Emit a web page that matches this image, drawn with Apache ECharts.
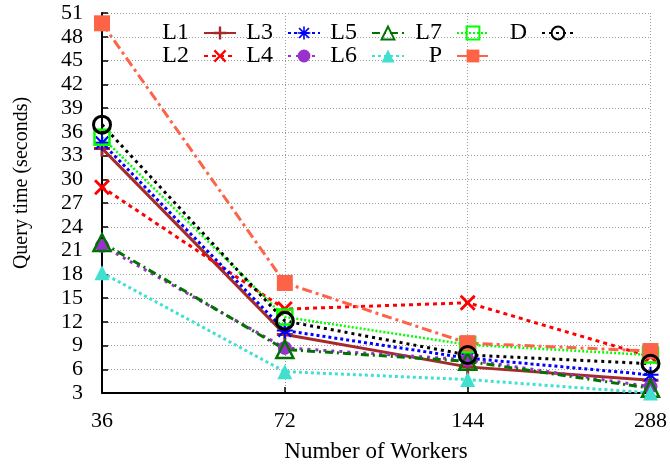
<!DOCTYPE html>
<html>
<head>
<meta charset="utf-8">
<script src="https://cdn.jsdelivr.net/npm/echarts@6/dist/echarts.min.js"></script>
<style>
  html, body { margin: 0; padding: 0; background: #fff; }
  #chart { width: 670px; height: 467px; }
</style>
</head>
<body>
<div id="chart"></div>
<script>
// Number of workers (x categories)
const workers = ['36', '72', '144', '288'];

// Query time in seconds per query
const L1 = [33.9, 10.4, 6.3, 4.6];
const L2 = [29.0, 13.6, 14.4, 7.6];
const L3 = [34.6, 10.9, 7.4, 5.3];
const L4 = [21.6, 8.7, 7.2, 3.8];
const L5 = [22.0, 8.5, 7.0, 3.6];
const L6 = [18.2, 5.7, 4.7, 3.0];
const L7 = [35.3, 12.6, 9.1, 7.8];
const P  = [49.7, 16.9, 9.3, 8.3];
const D  = [36.9, 12.1, 7.8, 6.7];

const yMin = 3, yMax = 51, yStep = 3;

const FONT = 'Liberation Serif';

// marker shapes
const PLUS = 'path://M0,6.5h16v3h-16zM6.5,0h3v16h-3z';
const CROSS = 'path://M2,0L8,6L14,0L16,2L10,8L16,14L14,16L8,10L2,16L0,14L6,8L0,2Z';
const STAR = 'path://M0,7h16v2h-16zM7,0h2v16h-2zM2.5,1L8,6.5L13.5,1L15,2.5L9.5,8L15,13.5L13.5,15L8,9.5L2.5,15L1,13.5L6.5,8L1,2.5Z';
const CLEAR = 'rgba(0,0,0,0)';

const styles = {
  L1: { color: '#a52a2a', type: 'solid', width: 3, symbol: PLUS, size: 16, fill: '#a52a2a' },
  L2: { color: '#ff0000', type: [4, 4], width: 3, symbol: CROSS, size: 16, fill: '#ff0000' },
  L3: { color: '#0000ff', type: [3, 3], width: 3, symbol: STAR, size: 16, fill: '#0000ff' },
  L4: { color: '#9932cc', type: [3, 5], width: 3, symbol: 'circle', size: 14, fill: '#9932cc' },
  L5: { color: '#007400', type: [8, 4, 2, 4], width: 3, symbol: 'triangle', size: 17, fill: CLEAR, border: 2.5 },
  L6: { color: '#40e0d0', type: [3, 3], width: 3, symbol: 'triangle', size: 15, fill: '#40e0d0' },
  L7: { color: '#00ff00', type: [2, 2], width: 2.5, symbol: 'rect', size: 15, fill: CLEAR, border: 2.5 },
  P:  { color: '#ff6347', type: [10, 4, 3, 4], width: 3, symbol: 'rect', size: 16, fill: '#ff6347' },
  D:  { color: '#000000', type: [3, 4], width: 3, symbol: 'circle', size: 17, fill: CLEAR, border: 3 }
};

const seriesData = { L1, L2, L3, L4, L5, L6, L7, P, D };
const order = ['L1', 'L2', 'L3', 'L4', 'L5', 'L6', 'L7', 'P', 'D'];

const series = order.map(name => {
  const s = styles[name];
  return {
    name,
    type: 'line',
    data: seriesData[name],
    symbol: s.symbol,
    symbolSize: s.size,
    showAllSymbol: true,
    lineStyle: { color: s.color, type: s.type, width: s.width, cap: 'butt' },
    itemStyle: {
      color: s.fill,
      borderColor: s.border ? s.color : s.fill,
      borderWidth: s.border || 0
    },
    emphasis: { disabled: true },
    animation: false
  };
});

// key layout: two rows, five columns, label then line sample
const keyCols = [[ 'L1', 'L2' ], [ 'L3', 'L4' ], [ 'L5', 'L6' ], [ 'L7', 'P' ], [ 'D' ]];
const keyRight = [433, 349, 265, 180, 95];
const keyTop = [21, 44];
const legends = [];
keyCols.forEach((col, ci) => {
  col.forEach((name, ri) => {
    legends.push({
      data: [name],
      right: keyRight[ci],
      top: keyTop[ri],
      align: 'right',
      padding: 0,
      itemWidth: 32,
      itemHeight: 16,
      selectedMode: false,
      textStyle: { fontFamily: FONT, fontSize: 24, color: '#000', padding: [0, 10, 0, 0], lineHeight: 24 }
    });
  });
});

const chart = echarts.init(document.getElementById('chart'), null, { renderer: 'canvas' });
chart.setOption({
  animation: false,
  backgroundColor: '#fff',
  grid: { left: 102, right: 19, top: 13, bottom: 74, containLabel: false },
  legend: legends,
  xAxis: {
    type: 'category',
    data: workers,
    boundaryGap: false,
    axisLine: { show: true, lineStyle: { color: '#000', width: 2 } },
    axisTick: { show: true, inside: true, length: 6, lineStyle: { color: '#000', width: 1.5 } },
    axisLabel: { fontFamily: FONT, fontSize: 22, color: '#000', margin: 17 },
    splitLine: { show: true, lineStyle: { color: '#9a9a9a', type: [1, 2], width: 1 } }
  },
  yAxis: {
    type: 'value',
    min: yMin,
    max: yMax,
    interval: yStep,
    axisLine: { show: true, lineStyle: { color: '#000', width: 2 } },
    axisTick: { show: true, inside: true, length: 6, lineStyle: { color: '#000', width: 1.5 } },
    axisLabel: { fontFamily: FONT, fontSize: 22, color: '#000', margin: 19 },
    splitLine: { show: true, lineStyle: { color: '#9a9a9a', type: [1, 2], width: 1 } }
  },
  graphic: [
    {
      type: 'text',
      x: 22, y: 183,
      rotation: Math.PI / 2,
      style: { text: 'Query time (seconds)', fontFamily: FONT, fontSize: 20, fill: '#000', align: 'center', verticalAlign: 'middle' }
    },
    {
      type: 'text',
      x: 376, y: 452,
      style: { text: 'Number of Workers', fontFamily: FONT, fontSize: 23, fill: '#000', align: 'center', verticalAlign: 'middle' }
    }
  ],
  series
});
</script>
</body>
</html>
